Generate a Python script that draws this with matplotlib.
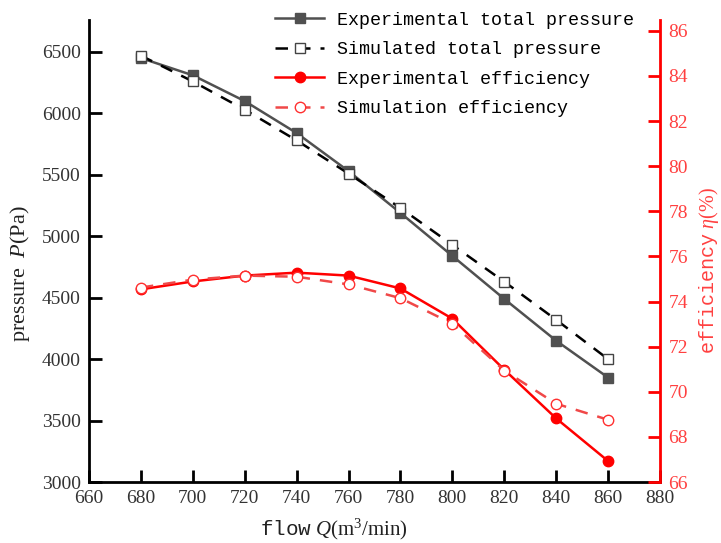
import matplotlib
matplotlib.use("Agg")
import matplotlib.pyplot as plt

# data
flow = [680, 700, 720, 740, 760, 780, 800, 820, 840, 860]
exp_pressure = [6450, 6310, 6100, 5840, 5530, 5190, 4840, 4490, 4150, 3850]
sim_pressure = [6470, 6260, 6030, 5780, 5510, 5230, 4930, 4630, 4320, 4000]
exp_eff = [74.54, 74.89, 75.15, 75.28, 75.15, 74.58, 73.24, 70.98, 68.82, 66.93]
sim_eff = [74.62, 74.97, 75.15, 75.10, 74.76, 74.15, 73.02, 70.94, 69.47, 68.76]

x_ticks = list(range(660, 881, 20))
p_ticks = list(range(3000, 6501, 500))
e_ticks = list(range(66, 87, 2))

plt.rcParams['mathtext.fontset'] = 'custom'
plt.rcParams['mathtext.rm'] = 'Liberation Serif'
plt.rcParams['mathtext.it'] = 'Liberation Serif:italic'
plt.rcParams['mathtext.tt'] = 'Liberation Mono'

serif = 'Liberation Serif'
mono = 'Liberation Mono'
red = '#ff0000'
gray = '#505050'
tick_col = '#333333'

fig = plt.figure(figsize=(7.21, 5.43), dpi=100)
ax = fig.add_axes([0.1234, 0.1123, 0.7920, 0.8509])
ax2 = ax.twinx()

l1, = ax.plot(flow, exp_pressure, color=gray, lw=1.8, marker='s', ms=7,
              mfc=gray, mec=gray, label='Experimental total pressure', zorder=3)
l2, = ax.plot(flow, sim_pressure, color='black', lw=1.8, ls=(0, (5, 4)),
              marker='s', ms=7, mfc='white', mec='#444444', mew=1.0,
              label='Simulated total pressure', zorder=4)
l3, = ax2.plot(flow, exp_eff, color=red, lw=1.8, marker='o', ms=7.5,
               mfc=red, mec=red, label='Experimental efficiency', zorder=3)
l4, = ax2.plot(flow, sim_eff, color='#f04848', lw=1.8, ls=(0, (5, 4)),
               marker='o', ms=7.5, mfc='white', mec='#ff3030', mew=1.0,
               label='Simulation efficiency', zorder=4)

ax.set_xlim(660, 880)
ax.set_ylim(3000, 6760)
ax2.set_ylim(66, 86.48)
ax.set_xticks(x_ticks)
ax.set_yticks(p_ticks)
ax2.set_yticks(e_ticks)

for a in (ax, ax2):
    a.spines['top'].set_visible(False)
    for s in a.spines.values():
        s.set_linewidth(2)
ax.spines['right'].set_visible(False)
ax2.spines['left'].set_visible(False)
ax2.spines['bottom'].set_visible(False)
ax2.spines['right'].set_color(red)

ax.tick_params(axis='both', direction='in', length=9, width=2,
               labelsize=14, labelcolor=tick_col, pad=6)
ax2.tick_params(axis='y', direction='in', length=9, width=2, color=red,
                labelsize=14, labelcolor='#ff4040', pad=6)
for lab in ax.get_xticklabels() + ax.get_yticklabels() + ax2.get_yticklabels():
    lab.set_family(serif)

ax.set_xlabel(r'$\mathtt{flow}\ Q(\mathrm{m}^3/\mathrm{min})$', fontsize=15,
              color='#222222')
ax.xaxis.set_label_coords(0.429, -0.075)
ax.set_ylabel(r'$\mathrm{pressure}\ \ P(\mathrm{Pa})$', fontsize=16,
              color='#222222')
ax.yaxis.set_label_coords(-0.1, 0.45)
ax2.set_ylabel(r'$\mathtt{efficiency}\ \eta(\%)$', fontsize=14.5,
               color='#ff4040')
ax2.yaxis.set_label_coords(1.064, 0.457)

fig.legend(handles=[l1, l2, l3, l4], loc='upper left',
           bbox_to_anchor=(0.361, 1.0055), frameon=False,
           prop={'family': mono, 'size': 13.2}, handlelength=2.7,
           handletextpad=0.7, labelspacing=0.68, borderpad=0.3)

fig.savefig('out.png', dpi=100)
